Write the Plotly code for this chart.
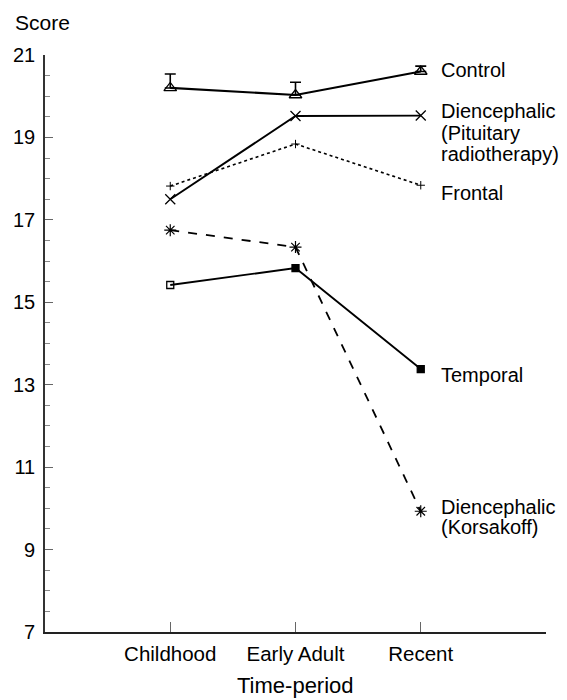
import plotly.graph_objects as go

categories = ["Childhood", "Early Adult", "Recent"]
xpos = [1, 2, 3]
y_ticks = [7, 9, 11, 13, 15, 17, 19, 21]

control = [20.2, 20.03, 20.6]
control_err = [0.34, 0.31, 0.13]
pituitary = [17.5, 19.52, 19.53]
frontal = [17.82, 18.84, 17.84]
korsakoff = [16.75, 16.34, 9.93]
temporal = [15.42, 15.83, 13.38]

FONT = "Liberation Sans, Arial, sans-serif"
fig = go.Figure()

fig.add_trace(go.Scatter(
    x=xpos, y=control, mode="lines+markers",
    line=dict(color="black", width=2.2),
    marker=dict(symbol="triangle-up-open", size=11, color="black", line=dict(width=1.3)),
    error_y=dict(type="data", symmetric=False, array=control_err,
                 arrayminus=[0, 0, 0], color="black", thickness=1.6, width=5.5),
))
fig.add_trace(go.Scatter(
    x=xpos, y=pituitary, mode="lines+markers",
    line=dict(color="black", width=1.9),
    marker=dict(symbol="x-thin-open", size=10, color="black", line=dict(width=1.3, color="black")),
))
fig.add_trace(go.Scatter(
    x=xpos, y=frontal, mode="lines+markers",
    line=dict(color="black", width=1.6, dash="dot"),
    marker=dict(symbol="cross-thin-open", size=6, color="black", line=dict(width=1, color="black")),
))
fig.add_trace(go.Scatter(
    x=xpos, y=korsakoff, mode="lines+markers",
    line=dict(color="black", width=1.8, dash="dash"),
    marker=dict(symbol="asterisk-open", size=10, color="black", line=dict(width=1.2, color="black")),
))
fig.add_trace(go.Scatter(
    x=xpos, y=temporal, mode="lines+markers",
    line=dict(color="black", width=1.9),
    marker=dict(symbol=["square-open", "square", "square"], size=7, color="black",
                line=dict(width=1.3, color="black")),
))

# end labels: (anchor value, [(line text, pixel shift)])
label_specs = [
    (control[2], [("Control", 1)]),
    (pituitary[2], [("Diencephalic", 5), ("(Pituitary", -17), ("radiotherapy)", -38)]),
    (frontal[2], [("Frontal", -8)]),
    (temporal[2], [("Temporal", -6)]),
    (korsakoff[2], [("Diencephalic", 4), ("(Korsakoff)", -16)]),
]
for yv, lines in label_specs:
    for txt, sh in lines:
        fig.add_annotation(x=3, y=yv, xref="x", yref="y", text=txt, showarrow=False,
                           xanchor="left", yanchor="middle", xshift=18, yshift=sh,
                           font=dict(family=FONT, size=20, color="black"))

fig.add_annotation(x=0, y=1, xref="paper", yref="paper", text="Score", showarrow=False,
                   xanchor="left", yanchor="bottom", xshift=-32, yshift=19,
                   font=dict(family=FONT, size=21, color="black"))
fig.add_annotation(x=0.5, y=0, xref="paper", yref="paper", text="Time-period", showarrow=False,
                   xanchor="center", yanchor="middle", yshift=-53,
                   font=dict(family=FONT, size=22, color="black"))

fig.update_xaxes(range=[0, 4], tickvals=[1, 2, 3, 4], ticktext=categories + [""],
                 ticks="inside", ticklen=10, tickcolor="#666", tickwidth=1,
                 showline=True, linecolor="#222", linewidth=1.6, showgrid=False, zeroline=False,
                 tickfont=dict(family=FONT, size=20.5, color="black"), ticklabelstandoff=3,
                 automargin=False)
fig.update_yaxes(range=[7, 21], tickvals=y_ticks,
                 ticks="inside", ticklen=8, tickcolor="#666", tickwidth=1,
                 minor=dict(dtick=0.5, ticks="inside", ticklen=5, tickcolor="#888", tickwidth=1),
                 showline=True, linecolor="#333", linewidth=1.6, showgrid=False, zeroline=False,
                 tickfont=dict(family=FONT, size=20, color="black"), ticklabelstandoff=4,
                 automargin=False)

fig.update_layout(width=559, height=692, margin=dict(l=37, r=21, t=47, b=68),
                  plot_bgcolor="white", paper_bgcolor="white", showlegend=False,
                  font=dict(family=FONT))
fig.write_html("out.html")
